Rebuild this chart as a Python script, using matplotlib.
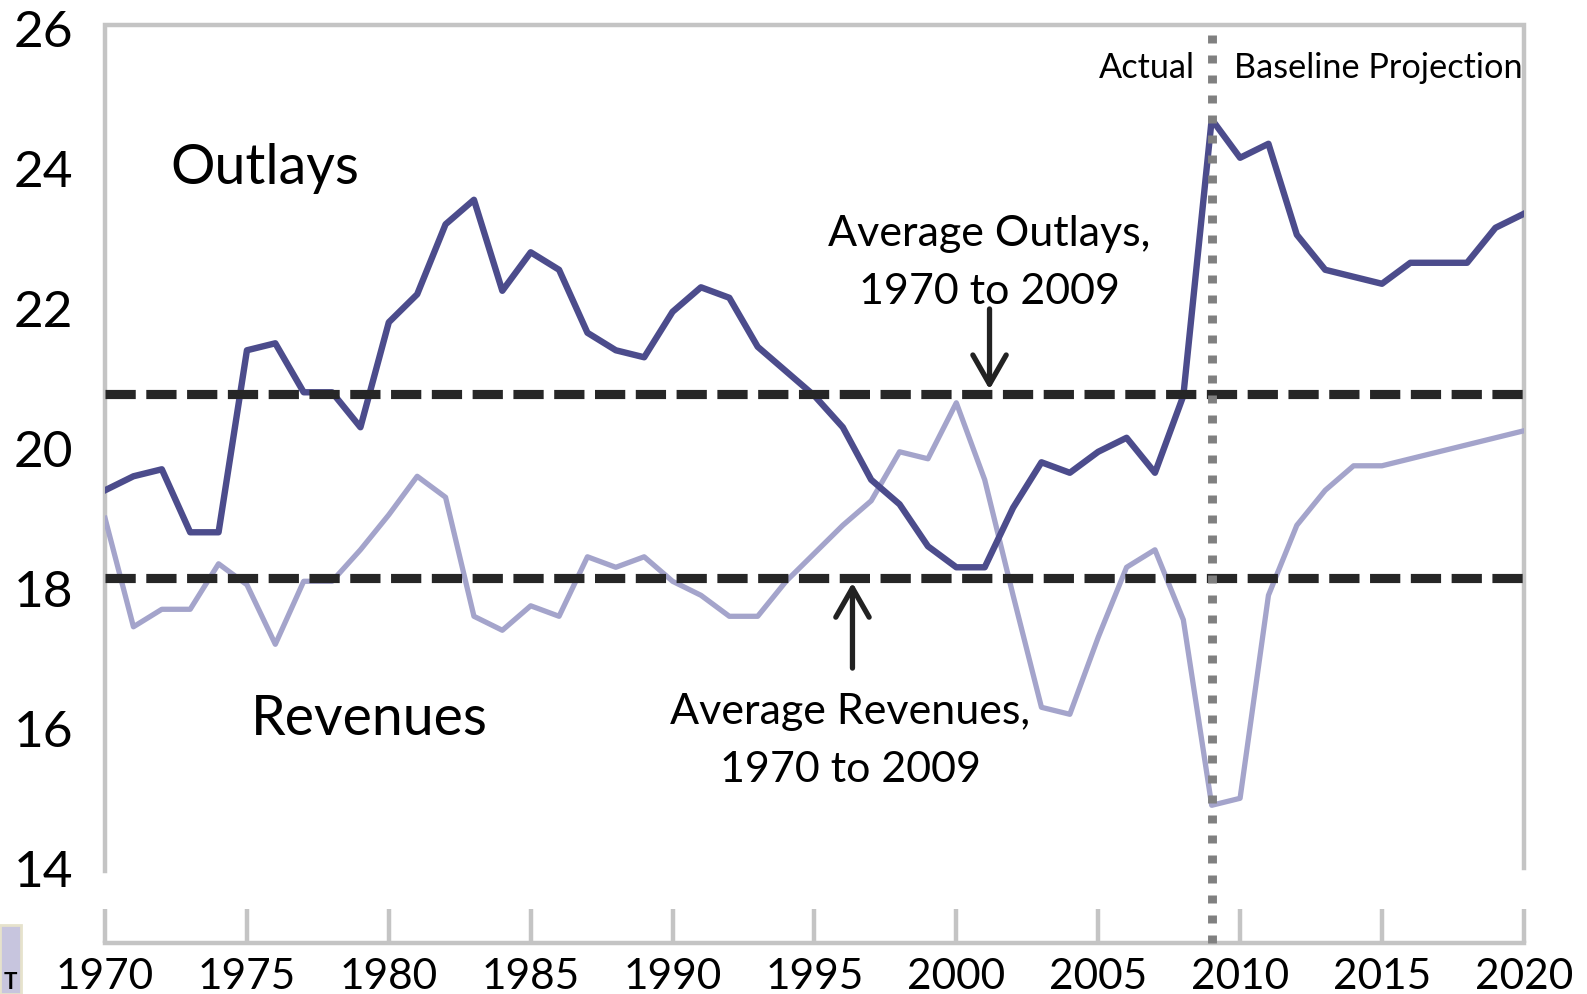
import matplotlib
matplotlib.use('Agg')
import matplotlib.pyplot as plt
from matplotlib.patches import Rectangle

# Data (percent of GDP)
years = list(range(1970, 2021))
outlays = [19.4, 19.6, 19.7, 18.8, 18.8, 21.4, 21.5, 20.8, 20.8, 20.3,
           21.8, 22.2, 23.2, 23.55, 22.25, 22.8, 22.55, 21.65, 21.4, 21.3,
           21.95, 22.3, 22.15, 21.45, 21.1, 20.75, 20.3, 19.55, 19.2, 18.6,
           18.3, 18.3, 19.15, 19.8, 19.65, 19.95, 20.15, 19.65, 20.75, 24.7,
           24.15, 24.35, 23.05, 22.55, 22.45, 22.35, 22.65, 22.65, 22.65, 23.15,
           23.35]
revenues = [19.0, 17.45, 17.7, 17.7, 18.35, 18.05, 17.2, 18.1, 18.1, 18.55,
            19.05, 19.6, 19.3, 17.6, 17.4, 17.75, 17.6, 18.45, 18.3, 18.45,
            18.1, 17.9, 17.6, 17.6, 18.1, 18.5, 18.9, 19.25, 19.95, 19.85,
            20.65, 19.55, 17.9, 16.3, 16.2, 17.3, 18.3, 18.55, 17.55, 14.9,
            15.0, 17.9, 18.9, 19.4, 19.75, 19.75, 19.85, 19.95, 20.05, 20.15,
            20.25]
avg_outlays = 20.78
avg_revenues = 18.15
split_year = 2009

ytick_vals = [14, 16, 18, 20, 22, 24, 26]
xtick_vals = list(range(1970, 2021, 5))

plt.rcParams['font.family'] = ['Lato', 'DejaVu Sans']

fig = plt.figure(figsize=(15.87, 9.94), dpi=100)
ax = fig.add_axes([0.0662, 0.049, 0.894, 0.9296])
ax.set_xlim(1970, 2020)
ax.set_ylim(12.9, 26.1)
for s in ax.spines.values():
    s.set_visible(False)

frame_col = '#c4c4c4'
# plot frame (open at the bottom) and separate x axis line
ax.plot([1970, 1970, 2020, 2020], [13.96, 26.05, 26.05, 14.0],
        color=frame_col, lw=3.2, clip_on=False, zorder=1, solid_joinstyle='miter')
ax.plot([1970, 2020], [12.93, 12.93], color=frame_col, lw=3.2, clip_on=False, zorder=1)
ax.vlines(xtick_vals, 12.93, 13.42, color=frame_col, lw=3.2, clip_on=False, zorder=1)

# series
ax.plot(years, revenues, color='#a4a4cb', lw=3.8, zorder=3)
ax.plot(years, outlays, color='#4c4c8c', lw=4.6, zorder=4)

# averages
for v in (avg_outlays, avg_revenues):
    ax.plot([1970, 2020], [v, v], color='#262626', lw=6.6,
            dashes=(3.3, 1.15), zorder=5, solid_capstyle='butt')

# actual / projection divider
ax.plot([split_year, split_year], [12.93, 26.0], color='#808080', lw=6.4,
        dashes=(0.9, 1.35), zorder=6, clip_on=False)

ax.set_xticks(xtick_vals)
ax.set_xticklabels([str(x) for x in xtick_vals], fontsize=30.5)
ax.set_yticks(ytick_vals)
ax.set_yticklabels([str(y) for y in ytick_vals], fontsize=37)
ax.tick_params(axis='both', length=0)
ax.tick_params(axis='y', pad=23)
ax.tick_params(axis='x', pad=9)

# labels
ax.text(1972.3, 24.0, 'Outlays', fontsize=40, ha='left', va='center')
ax.text(1975.15, 16.12, 'Revenues', fontsize=40, ha='left', va='center')
ax.text(2001.17, 22.65, 'Average Outlays,\n1970 to 2009', fontsize=31,
        ha='center', va='center', linespacing=1.66)
ax.text(1996.27, 15.82, 'Average Revenues,\n1970 to 2009', fontsize=31,
        ha='center', va='center', linespacing=1.66)
ax.text(2008.4, 25.43, 'Actual', fontsize=24.7, ha='right', va='center')
ax.text(2009.77, 25.43, 'Baseline Projection', fontsize=24.7, ha='left', va='center')

arrow = dict(arrowstyle='->,head_length=0.7,head_width=0.4', lw=3.8, color='#222222',
             mutation_scale=30, shrinkA=0, shrinkB=0)
ax.annotate('', xy=(2001.17, 20.84), xytext=(2001.17, 21.99), arrowprops=arrow)
ax.annotate('', xy=(1996.34, 18.08), xytext=(1996.34, 16.86), arrowprops=arrow)

# leftover slide fragment in the bottom-left corner
fig.patches.append(Rectangle((0, 0), 0.0135, 0.069, transform=fig.transFigure,
                             facecolor='#c7c5de', edgecolor='#e6e2cc', lw=2))
fig.text(0.0068, 0.001, 'T', fontsize=16, fontweight='bold', ha='center', va='bottom')

fig.savefig('out.png', dpi=100)
